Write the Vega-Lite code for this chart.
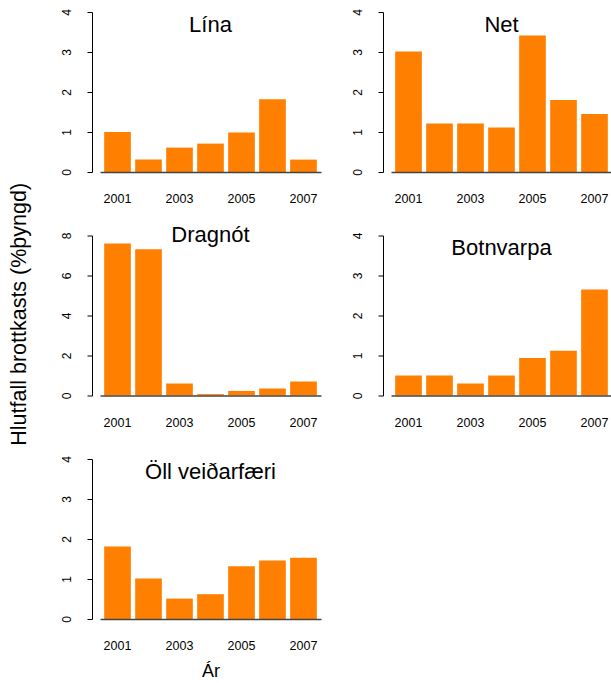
{
  "$schema": "https://vega.github.io/schema/vega-lite/v6.json",
  "padding": {"left": 8, "top": 8, "right": 0, "bottom": 4},
  "background": "white",
  "config": {
    "font": "Liberation Sans",
    "view": {"stroke": null},
    "axis": {"labelColor": "black", "titleColor": "black", "tickColor": "black", "domainColor": "black", "grid": false, "labelFont": "Liberation Sans", "titleFont": "Liberation Sans", "titleFontWeight": "normal"},
    "title": {"font": "Liberation Sans", "fontWeight": "normal", "color": "black"}
  },
  "title": {"text": "Hlutfall brottkasts (%þyngd)", "orient": "left", "anchor": "middle", "fontSize": 21.5, "offset": 30, "dx": 30},
  "data": {"values": [
    {"gear": "Lína", "year": 2001, "value": 1.0},
    {"gear": "Lína", "year": 2002, "value": 0.31},
    {"gear": "Lína", "year": 2003, "value": 0.61},
    {"gear": "Lína", "year": 2004, "value": 0.71},
    {"gear": "Lína", "year": 2005, "value": 0.99},
    {"gear": "Lína", "year": 2006, "value": 1.82},
    {"gear": "Lína", "year": 2007, "value": 0.31},
    {"gear": "Net", "year": 2001, "value": 3.01},
    {"gear": "Net", "year": 2002, "value": 1.21},
    {"gear": "Net", "year": 2003, "value": 1.21},
    {"gear": "Net", "year": 2004, "value": 1.11},
    {"gear": "Net", "year": 2005, "value": 3.41},
    {"gear": "Net", "year": 2006, "value": 1.8},
    {"gear": "Net", "year": 2007, "value": 1.45},
    {"gear": "Dragnót", "year": 2001, "value": 7.6},
    {"gear": "Dragnót", "year": 2002, "value": 7.31},
    {"gear": "Dragnót", "year": 2003, "value": 0.6},
    {"gear": "Dragnót", "year": 2004, "value": 0.07},
    {"gear": "Dragnót", "year": 2005, "value": 0.23},
    {"gear": "Dragnót", "year": 2006, "value": 0.35},
    {"gear": "Dragnót", "year": 2007, "value": 0.7},
    {"gear": "Botnvarpa", "year": 2001, "value": 0.5},
    {"gear": "Botnvarpa", "year": 2002, "value": 0.5},
    {"gear": "Botnvarpa", "year": 2003, "value": 0.3},
    {"gear": "Botnvarpa", "year": 2004, "value": 0.5},
    {"gear": "Botnvarpa", "year": 2005, "value": 0.94},
    {"gear": "Botnvarpa", "year": 2006, "value": 1.12},
    {"gear": "Botnvarpa", "year": 2007, "value": 2.65},
    {"gear": "Öll veiðarfæri", "year": 2001, "value": 1.81},
    {"gear": "Öll veiðarfæri", "year": 2002, "value": 1.01},
    {"gear": "Öll veiðarfæri", "year": 2003, "value": 0.51},
    {"gear": "Öll veiðarfæri", "year": 2004, "value": 0.62},
    {"gear": "Öll veiðarfæri", "year": 2005, "value": 1.32},
    {"gear": "Öll veiðarfæri", "year": 2006, "value": 1.46},
    {"gear": "Öll veiðarfæri", "year": 2007, "value": 1.53}
  ]},
  "columns": 2,
  "bounds": "flush",
  "spacing": {"row": 63.5, "column": 70},
  "concat": [
    {
      "width": 221, "height": 160,
      "title": {"text": "Lína", "fontSize": 22, "frame": "group", "anchor": "middle", "baseline": "middle", "offset": -38},
      "transform": [{"filter": "datum.gear === 'Lína'"}],
      "mark": {"type": "bar", "color": "#FF7F00"},
      "encoding": {
        "x": {"field": "year", "type": "ordinal", "scale": {"paddingInner": 0.14, "paddingOuter": 0.135},
              "axis": {"title": null, "values": [2001, 2003, 2005, 2007], "labelAngle": 0, "ticks": false, "tickSize": 0, "labelPadding": 20.5, "labelFontSize": 12.5, "domainColor": "#444", "domainWidth": 1.3, "zindex": 1}},
        "y": {"field": "value", "type": "quantitative", "scale": {"domain": [0, 4], "nice": false},
              "axis": {"title": null, "values": [0, 1, 2, 3, 4], "offset": 8, "tickSize": 5, "labelAngle": -90, "labelPadding": 14, "labelFontSize": 12}}
      }
    },
    {
      "width": 221, "height": 160,
      "title": {"text": "Net", "fontSize": 22, "frame": "group", "anchor": "middle", "baseline": "middle", "offset": -38},
      "transform": [{"filter": "datum.gear === 'Net'"}],
      "mark": {"type": "bar", "color": "#FF7F00"},
      "encoding": {
        "x": {"field": "year", "type": "ordinal", "scale": {"paddingInner": 0.14, "paddingOuter": 0.135},
              "axis": {"title": null, "values": [2001, 2003, 2005, 2007], "labelAngle": 0, "ticks": false, "tickSize": 0, "labelPadding": 20.5, "labelFontSize": 12.5, "domainColor": "#444", "domainWidth": 1.3, "zindex": 1}},
        "y": {"field": "value", "type": "quantitative", "scale": {"domain": [0, 4], "nice": false},
              "axis": {"title": null, "values": [0, 1, 2, 3, 4], "offset": 8, "tickSize": 5, "labelAngle": -90, "labelPadding": 14, "labelFontSize": 12}}
      }
    },
    {
      "width": 221, "height": 160,
      "title": {"text": "Dragnót", "fontSize": 22, "frame": "group", "anchor": "middle", "baseline": "middle", "offset": -25},
      "transform": [{"filter": "datum.gear === 'Dragnót'"}],
      "mark": {"type": "bar", "color": "#FF7F00"},
      "encoding": {
        "x": {"field": "year", "type": "ordinal", "scale": {"paddingInner": 0.14, "paddingOuter": 0.135},
              "axis": {"title": null, "values": [2001, 2003, 2005, 2007], "labelAngle": 0, "ticks": false, "tickSize": 0, "labelPadding": 20.5, "labelFontSize": 12.5, "domainColor": "#444", "domainWidth": 1.3, "zindex": 1}},
        "y": {"field": "value", "type": "quantitative", "scale": {"domain": [0, 8], "nice": false},
              "axis": {"title": null, "values": [0, 2, 4, 6, 8], "offset": 8, "tickSize": 5, "labelAngle": -90, "labelPadding": 14, "labelFontSize": 12}}
      }
    },
    {
      "width": 221, "height": 160,
      "title": {"text": "Botnvarpa", "fontSize": 22, "frame": "group", "anchor": "middle", "baseline": "middle", "offset": -38},
      "transform": [{"filter": "datum.gear === 'Botnvarpa'"}],
      "mark": {"type": "bar", "color": "#FF7F00"},
      "encoding": {
        "x": {"field": "year", "type": "ordinal", "scale": {"paddingInner": 0.14, "paddingOuter": 0.135},
              "axis": {"title": null, "values": [2001, 2003, 2005, 2007], "labelAngle": 0, "ticks": false, "tickSize": 0, "labelPadding": 20.5, "labelFontSize": 12.5, "domainColor": "#444", "domainWidth": 1.3, "zindex": 1}},
        "y": {"field": "value", "type": "quantitative", "scale": {"domain": [0, 4], "nice": false},
              "axis": {"title": null, "values": [0, 1, 2, 3, 4], "offset": 8, "tickSize": 5, "labelAngle": -90, "labelPadding": 14, "labelFontSize": 12}}
      }
    },
    {
      "width": 221, "height": 160,
      "title": {"text": "Öll veiðarfæri", "fontSize": 22, "frame": "group", "anchor": "middle", "baseline": "middle", "offset": -38},
      "transform": [{"filter": "datum.gear === 'Öll veiðarfæri'"}],
      "mark": {"type": "bar", "color": "#FF7F00"},
      "encoding": {
        "x": {"field": "year", "type": "ordinal", "scale": {"paddingInner": 0.14, "paddingOuter": 0.135},
              "axis": {"title": "Ár", "titleFontSize": 18, "titlePadding": 10, "values": [2001, 2003, 2005, 2007], "labelAngle": 0, "ticks": false, "tickSize": 0, "labelPadding": 20.5, "labelFontSize": 12.5, "domainColor": "#444", "domainWidth": 1.3, "zindex": 1}},
        "y": {"field": "value", "type": "quantitative", "scale": {"domain": [0, 4], "nice": false},
              "axis": {"title": null, "values": [0, 1, 2, 3, 4], "offset": 8, "tickSize": 5, "labelAngle": -90, "labelPadding": 14, "labelFontSize": 12}}
      }
    }
  ]
}
